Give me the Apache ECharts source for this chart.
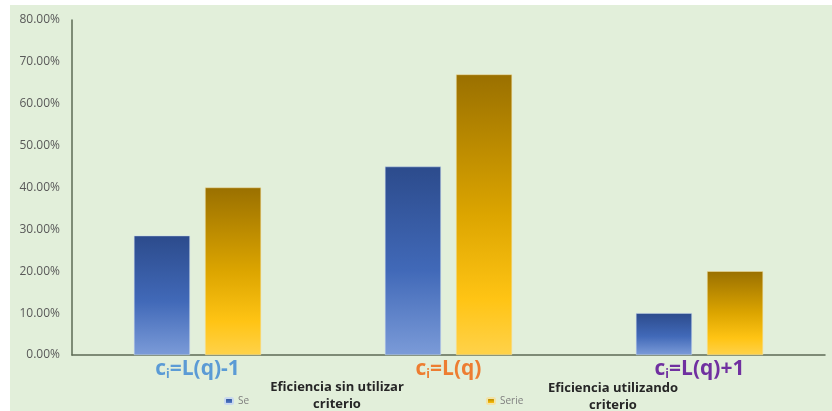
<!DOCTYPE html>
<html>
<head>
<meta charset="utf-8">
<script src="https://cdn.jsdelivr.net/npm/echarts@6/dist/echarts.min.js"></script>
<style>
  html, body { margin: 0; padding: 0; background: #ffffff; width: 832px; height: 411px; overflow: hidden; }
  #chart { position: absolute; left: 10px; top: 5px; width: 822px; height: 406px; background: #e2efda; }
</style>
</head>
<body>
<div id="chart"></div>
<script>
// Category labels (c subscript i = ...), their colours and the two series
const categories = ['=L(q)-1', '=L(q)', '=L(q)+1'];
const categoryColors = ['#5b9bd5', '#ed7d31', '#7030a0'];
const seriesNames = ['Se', 'Serie'];
const seriesCaptions = ['Eficiencia sin utilizar\ncriterio', 'Eficiencia utilizando\ncriterio'];
const sinCriterio = [28.5, 45, 10];
const conCriterio = [40, 67, 20];
const yTicks = [0, 10, 20, 30, 40, 50, 60, 70, 80];

const chart = echarts.init(document.getElementById('chart'), null, { renderer: 'canvas' });

const blueFill = new echarts.graphic.LinearGradient(0, 0, 0, 1, [
  { offset: 0, color: '#2c4b8c' },
  { offset: 0.55, color: '#4169b8' },
  { offset: 1, color: '#7b9bd8' }
]);
const goldFill = new echarts.graphic.LinearGradient(0, 0, 0, 1, [
  { offset: 0, color: '#9a7000' },
  { offset: 0.5, color: '#dca500' },
  { offset: 0.8, color: '#ffc414' },
  { offset: 1, color: '#ffd24a' }
]);

const richCat = {};
categoryColors.forEach((col, i) => {
  richCat['c' + i] = { color: col, fontSize: 21, fontWeight: 'bold', fontFamily: 'Open Sans', lineHeight: 24, verticalAlign: 'middle' };
  richCat['s' + i] = { color: col, fontSize: 12, fontWeight: 'bold', fontFamily: 'Open Sans', lineHeight: 24, verticalAlign: 'bottom', padding: [10, 0, 0, 0] };
});

chart.setOption({
  animation: false,
  grid: { left: 62, right: 7, top: 15, bottom: 56, containLabel: false },
  xAxis: {
    type: 'category',
    data: categories,
    axisLine: { lineStyle: { color: '#5d6b55', width: 1.5 } },
    axisTick: { show: false },
    axisLabel: {
      margin: 2,
      formatter: (v, idx) => '{c' + idx + '|c}{s' + idx + '|i}{c' + idx + '|' + v + '}',
      rich: richCat
    }
  },
  yAxis: {
    type: 'value',
    min: yTicks[0],
    max: yTicks[yTicks.length - 1],
    interval: 10,
    axisLine: { show: true, lineStyle: { color: '#5d6b55', width: 1.5 } },
    axisTick: { show: false },
    splitLine: { show: false },
    axisLabel: {
      margin: 12,
      color: '#595959',
      fontSize: 12,
      fontFamily: 'Open Sans',
      formatter: v => v.toFixed(2) + '%'
    }
  },
  legend: [
    {
      data: [seriesNames[0]], left: 209, top: 386, itemWidth: 8, itemHeight: 6,
      textStyle: { color: '#7f7f7f', fontSize: 10, fontFamily: 'Open Sans' }
    },
    {
      data: [seriesNames[1]], left: 471, top: 386, itemWidth: 8, itemHeight: 6,
      textStyle: { color: '#7f7f7f', fontSize: 10, fontFamily: 'Open Sans' }
    }
  ],
  graphic: [
    {
      type: 'text', left: 327 - 75, top: 374,
      style: { text: seriesCaptions[0], fill: '#262626', font: 'bold 13px "Open Sans"', textAlign: 'center', lineHeight: 17, width: 150 }
    },
    {
      type: 'text', left: 603 - 75, top: 375,
      style: { text: seriesCaptions[1], fill: '#262626', font: 'bold 13px "Open Sans"', textAlign: 'center', lineHeight: 17, width: 150 }
    }
  ],
  series: [
    {
      name: seriesNames[0], type: 'bar', data: sinCriterio,
      barWidth: 56, barGap: '27%',
      itemStyle: { color: blueFill, borderColor: '#c9d9ee', borderWidth: 0.5 }
    },
    {
      name: seriesNames[1], type: 'bar', data: conCriterio,
      barWidth: 56,
      itemStyle: { color: goldFill, borderColor: '#f3e3a6', borderWidth: 0.5 }
    }
  ]
});
</script>
</body>
</html>
